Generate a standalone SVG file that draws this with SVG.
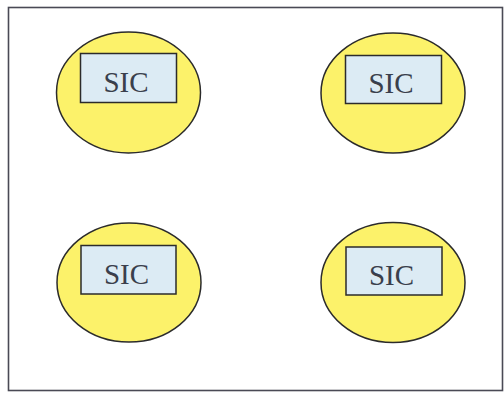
<svg xmlns="http://www.w3.org/2000/svg" width="504" height="393" viewBox="0 0 504 393">
  <style>
    .frame { fill: #ffffff; stroke: #4a4a55; stroke-width: 1.6; }
    .cell { fill: #fcf26a; stroke: #2b2b2b; stroke-width: 1.5; }
    .box { fill: #dcebf4; stroke: #2b2b2b; stroke-width: 1.5; }
    .label { font-family: "Liberation Serif", "Times New Roman", serif; font-size: 29px; fill: #3a3f4c; text-anchor: middle; }
  </style>
  <rect width="504" height="393" fill="#ffffff"/>
  <rect class="frame" x="8.5" y="7.5" width="494" height="383"/>

  <g id="sic-top-left">
    <ellipse class="cell" cx="128.5" cy="92.5" rx="72" ry="60.5"/>
    <rect class="box" x="80.5" y="53.5" width="96" height="49"/>
    <text class="label" x="126" y="92">SIC</text>
  </g>

  <g id="sic-top-right">
    <ellipse class="cell" cx="393" cy="93" rx="72" ry="60"/>
    <rect class="box" x="345.5" y="55.5" width="96" height="48"/>
    <text class="label" x="391" y="93">SIC</text>
  </g>

  <g id="sic-bottom-left">
    <ellipse class="cell" cx="129" cy="282.5" rx="72" ry="59.5"/>
    <rect class="box" x="81" y="245.5" width="95" height="48.5"/>
    <text class="label" x="126.5" y="284">SIC</text>
  </g>

  <g id="sic-bottom-right">
    <ellipse class="cell" cx="393" cy="282.5" rx="72" ry="60"/>
    <rect class="box" x="346" y="247" width="96" height="48"/>
    <text class="label" x="391.5" y="285">SIC</text>
  </g>

  <g id="connectors"/>
</svg>
